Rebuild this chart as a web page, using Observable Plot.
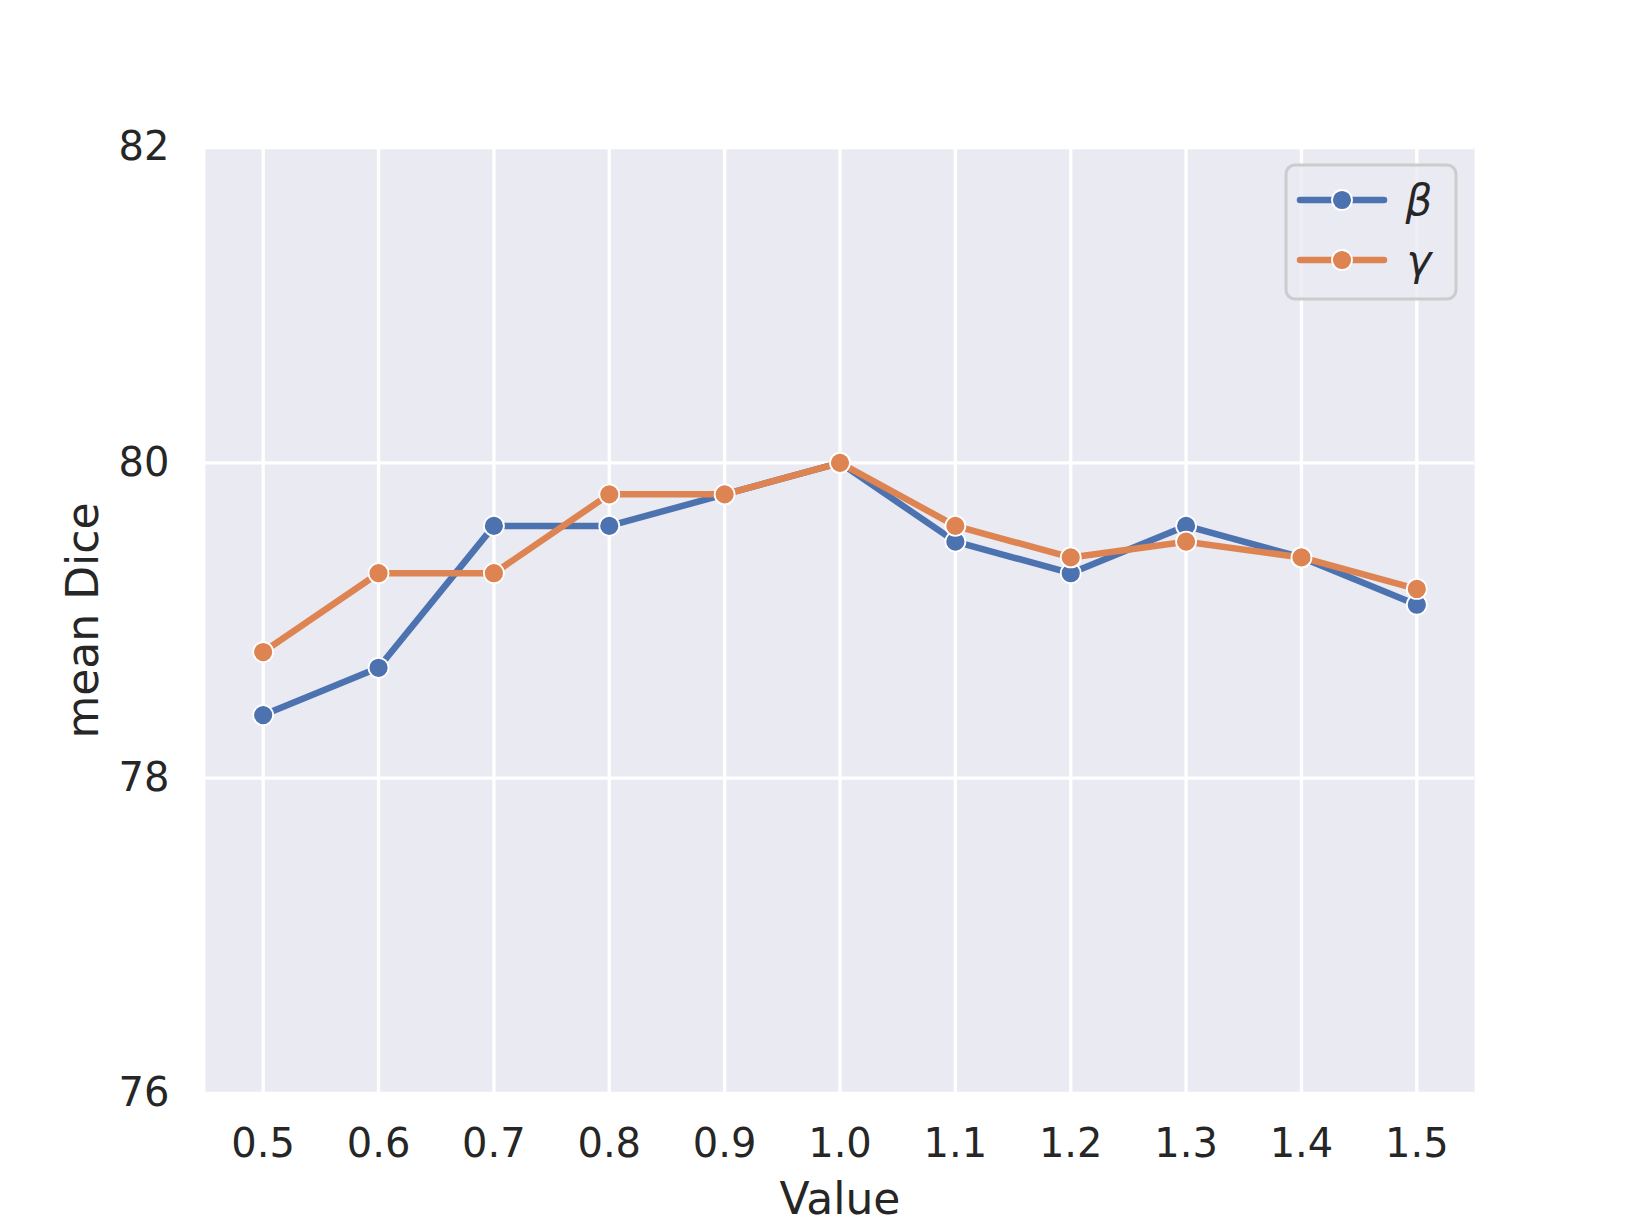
<!DOCTYPE html>
<html><head><meta charset="utf-8">
<script src="https://cdn.jsdelivr.net/npm/d3@7"></script>
<script src="https://cdn.jsdelivr.net/npm/@observablehq/plot@0.6"></script>
<style>html,body{margin:0;padding:0;background:#fff}</style>
</head><body><div id="chart"></div>
<script>
const xValues = [0.5, 0.6, 0.7, 0.8, 0.9, 1.0, 1.1, 1.2, 1.3, 1.4, 1.5];
const betaValues = [78.4, 78.7, 79.6, 79.6, 79.8, 80.0, 79.5, 79.3, 79.6, 79.4, 79.1];
const gammaValues = [78.8, 79.3, 79.3, 79.8, 79.8, 80.0, 79.6, 79.4, 79.5, 79.4, 79.2];
const seriesNames = ["β", "γ"];
const seriesColors = ["#4C72B0", "#DD8452"];
const yTicks = [76, 78, 80, 82];
const xTicks = xValues;
const xLabel = "Value";
const yLabel = "mean Dice";

const rows = [];
xValues.forEach((x, i) => rows.push({x, y: betaValues[i], s: seriesNames[0]}));
xValues.forEach((x, i) => rows.push({x, y: gammaValues[i], s: seriesNames[1]}));

const W = 1638, H = 1228;
const mL = 205, mR = 164, mT = 147, mB = 135;

const seriesMarks = seriesNames.flatMap((name, k) => {
  const d = rows.filter(r => r.s === name);
  return [
    Plot.line(d, {x: "x", y: "y", stroke: seriesColors[k], strokeWidth: 6.5, strokeLinejoin: "round", strokeLinecap: "square"}),
    Plot.dot(d, {x: "x", y: "y", r: 10, fill: seriesColors[k], stroke: "white", strokeWidth: 1.8})
  ];
});

const plot = Plot.plot({
  width: W, height: H,
  marginLeft: mL, marginRight: mR, marginTop: mT, marginBottom: mB,
  style: {fontFamily: "DejaVu Sans", fontSize: "40px", color: "#262626", background: "white", overflow: "visible"},
  x: {domain: [0.45, 1.55], ticks: xTicks, tickFormat: d3.format(".1f"), tickSize: 0, tickPadding: 35, label: null},
  y: {domain: [76, 82], ticks: yTicks, tickFormat: d3.format("d"), tickSize: 0, tickPadding: 36, label: null},
  marks: [
    Plot.frame({fill: "#EAEAF2", stroke: null}),
    Plot.ruleX(xTicks, {stroke: "white", strokeWidth: 3.3}),
    Plot.ruleY(yTicks, {stroke: "white", strokeWidth: 3.3}),
    ...seriesMarks,
    Plot.text([xLabel], {frameAnchor: "bottom", text: d => d, dy: 106, lineAnchor: "middle", textAnchor: "middle", fontSize: 44, fill: "#262626"}),
    Plot.text([yLabel], {frameAnchor: "left", text: d => d, dx: -122, rotate: -90, lineAnchor: "middle", textAnchor: "middle", fontSize: 44, fill: "#262626"})
  ]
});

document.getElementById("chart").appendChild(plot);

// legend
const xr = plot.scale("x").range, yr = plot.scale("y").range;
const frameRight = Math.max(...xr), frameTop = Math.min(...yr);
const svgSel = d3.select(plot);
const lg = svgSel.append("g").attr("transform", `translate(${frameRight - 18 - 170},${frameTop + 18})`);
lg.append("rect").attr("x", 0).attr("y", 0).attr("width", 170).attr("height", 134)
  .attr("rx", 9).attr("ry", 9)
  .attr("fill", "#EAEAF2").attr("fill-opacity", 0.8)
  .attr("stroke", "#CCCCCC").attr("stroke-width", 3);
seriesNames.forEach((name, k) => {
  const cy = 35 + k * 60;
  lg.append("line").attr("x1", 14).attr("x2", 98).attr("y1", cy).attr("y2", cy)
    .attr("stroke", seriesColors[k]).attr("stroke-width", 6.5).attr("stroke-linecap", "round");
  lg.append("circle").attr("cx", 56).attr("cy", cy).attr("r", 10)
    .attr("fill", seriesColors[k]).attr("stroke", "white").attr("stroke-width", 1.8);
  lg.append("text").attr("x", 133).attr("y", cy + 15).text(name)
    .attr("font-family", "DejaVu Sans").attr("font-style", "italic").attr("font-size", 42).attr("fill", "#262626");
});
</script>
</body></html>
